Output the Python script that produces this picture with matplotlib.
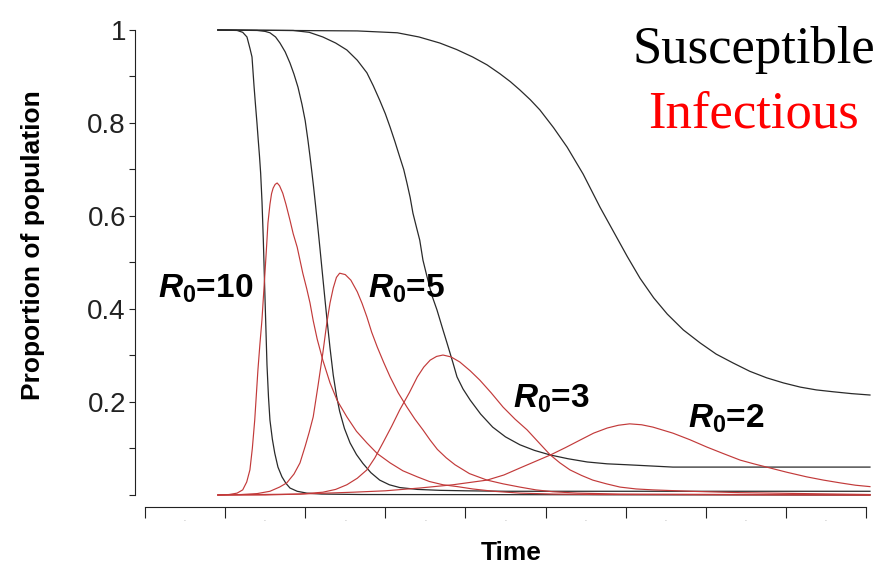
import matplotlib
matplotlib.use("Agg")
from matplotlib import pyplot as plt
from matplotlib.ticker import FixedLocator, FixedFormatter

plt.rcParams['font.family'] = ['Liberation Sans', 'DejaVu Sans']
plt.rcParams['mathtext.fontset'] = 'custom'
plt.rcParams['mathtext.it'] = 'Liberation Sans:italic:bold'
plt.rcParams['mathtext.rm'] = 'Liberation Sans:bold'
plt.rcParams['mathtext.bf'] = 'Liberation Sans:bold'

# susceptible fraction (time, proportion) for each R0
s10_t = [9.1, 11.5, 12.2, 12.73, 13.11, 13.36, 13.61, 13.79, 13.98, 14.14, 14.29, 14.44, 14.61, 14.77, 14.92,
         15.04, 15.23, 15.42, 15.6, 15.9, 16.2, 16.6, 17.1, 17.6, 18.1, 19.0, 20.2, 22.0, 27.0, 90.5]
s10_y = [1.0, 0.999, 0.995, 0.985, 0.96, 0.942, 0.88, 0.84, 0.80, 0.763, 0.73, 0.692, 0.63, 0.55, 0.46,
         0.39, 0.28, 0.21, 0.161, 0.12, 0.09, 0.06, 0.039, 0.025, 0.015, 0.008, 0.004, 0.002, 0.001, 0.0]

s5_t = [9.1, 14.0, 15.0, 15.6, 16.3, 16.85, 17.5, 18.1, 18.6, 19.1, 19.6, 20.0, 20.35, 20.6, 20.85, 21.05,
        21.25, 21.45, 21.6, 21.85, 22.1, 22.3, 22.5, 22.7, 23.1, 23.5, 23.9, 24.3, 24.9, 25.6, 26.4, 27.2,
        28.2, 29.3, 30.5, 31.8, 34.0, 36.8, 40.0, 45.0, 90.5]
s5_y = [1.0, 0.999, 0.997, 0.994, 0.985, 0.972, 0.953, 0.929, 0.905, 0.877, 0.840, 0.805, 0.762, 0.728, 0.692,
        0.662, 0.630, 0.597, 0.572, 0.529, 0.485, 0.450, 0.415, 0.381, 0.316, 0.258, 0.214, 0.180, 0.143, 0.112,
        0.087, 0.068, 0.048, 0.032, 0.022, 0.016, 0.012, 0.010, 0.009, 0.008, 0.008]

s3_t = [9.1, 18.5, 20.5, 22.2, 23.8, 25.2, 26.5, 27.7, 28.5, 29.3, 30.0, 30.6, 31.2, 31.8, 32.3, 32.7, 33.1,
        33.45, 33.9, 34.3, 34.7, 35.2, 35.8, 36.45, 37.2, 37.7, 38.45, 38.95, 39.7, 40.6, 41.9, 43.4, 45.0,
        46.8, 48.6, 50.6, 52.8, 55.2, 57.7, 60.2, 65.9, 90.5]
s3_y = [1.0, 0.999, 0.995, 0.985, 0.972, 0.957, 0.935, 0.908, 0.88, 0.849, 0.82, 0.791, 0.76, 0.727, 0.70, 0.671,
        0.64, 0.606, 0.575, 0.548, 0.505, 0.47, 0.43, 0.398, 0.355, 0.327, 0.284, 0.254, 0.228, 0.204, 0.174,
        0.146, 0.125, 0.108, 0.096, 0.086, 0.078, 0.071, 0.067, 0.065, 0.060, 0.060]

s2_t = [9.1, 26.5, 31.5, 34.2, 36.8, 38.9, 40.9, 42.7, 44.3, 45.6, 46.8, 48.1, 49.3, 51.0, 52.7, 54.7, 56.8,
        58.5, 60.2, 61.8, 63.5, 65.2, 67.2, 69.3, 71.3, 73.4, 75.5, 77.6, 79.7, 81.8, 83.8, 85.9, 88.2, 90.5]
s2_y = [1.0, 0.998, 0.994, 0.985, 0.972, 0.958, 0.942, 0.925, 0.906, 0.889, 0.871, 0.850, 0.828, 0.79, 0.748,
        0.69, 0.619, 0.566, 0.513, 0.466, 0.424, 0.389, 0.355, 0.327, 0.303, 0.284, 0.266, 0.252, 0.241, 0.232,
        0.226, 0.222, 0.218, 0.215]

# infectious fraction
i10_t = [9.1, 10.5, 11.5, 12.2, 12.7, 13.1, 13.4, 13.7, 13.9, 14.1, 14.35, 14.6, 14.8, 15.0, 15.2, 15.35,
         15.6, 15.8, 16.0, 16.25, 16.5, 16.8, 17.2, 17.6, 18.1, 18.5, 19.0, 19.35, 19.7, 20.2, 20.6, 21.0,
         21.5, 22.2, 23.1, 24.0, 25.2, 26.4, 27.7, 29.0, 30.6, 32.2, 34.0, 35.5, 37.2, 39.0, 40.9, 43.5,
         46.8, 51.0, 56.8, 90.5]
i10_y = [0.0, 0.001, 0.004, 0.011, 0.028, 0.054, 0.10, 0.161, 0.215, 0.269, 0.325, 0.376, 0.43, 0.484, 0.54,
         0.585, 0.625, 0.648, 0.660, 0.668, 0.671, 0.665, 0.649, 0.625, 0.591, 0.562, 0.533, 0.505, 0.477, 0.443,
         0.413, 0.375, 0.335, 0.29, 0.241, 0.203, 0.168, 0.137, 0.112, 0.089, 0.069, 0.052, 0.039, 0.029, 0.022,
         0.018, 0.013, 0.008, 0.004, 0.002, 0.001, 0.0]

i5_t = [9.1, 12.0, 14.0, 15.6, 16.8, 17.7, 18.6, 19.35, 20.0, 20.5, 21.0, 21.6, 22.2, 22.7, 23.1, 23.5, 23.9,
        24.3, 25.0, 25.7, 26.5, 27.1, 27.7, 28.3, 29.0, 29.8, 30.6, 31.6, 32.7, 33.7, 34.7, 35.6, 36.5, 37.6,
        38.7, 40.5, 42.7, 44.7, 46.8, 48.8, 50.9, 54.0, 59.3, 90.5]
i5_y = [0.0, 0.001, 0.003, 0.008, 0.017, 0.026, 0.045, 0.069, 0.105, 0.135, 0.168, 0.235, 0.305, 0.37, 0.413,
        0.445, 0.468, 0.477, 0.474, 0.462, 0.437, 0.412, 0.383, 0.35, 0.318, 0.285, 0.254, 0.22, 0.189, 0.163,
        0.14, 0.118, 0.098, 0.08, 0.065, 0.046, 0.032, 0.024, 0.017, 0.011, 0.007, 0.004, 0.002, 0.0]

i3_t = [9.1, 15.0, 19.35, 22.2, 23.8, 25.2, 26.5, 27.7, 28.7, 29.7, 30.8, 31.8, 33.0, 34.0, 34.8, 35.6, 36.4,
        37.2, 38.2, 39.3, 40.6, 41.8, 43.2, 44.7, 46.2, 47.7, 49.2, 50.6, 51.8, 53.05, 54.5, 55.9, 57.6, 59.3,
        61.3, 63.4, 68.0, 74.3, 90.5]
i3_y = [0.0, 0.0, 0.002, 0.006, 0.012, 0.022, 0.036, 0.054, 0.08, 0.112, 0.148, 0.183, 0.22, 0.254, 0.275,
        0.29, 0.298, 0.301, 0.297, 0.286, 0.267, 0.247, 0.22, 0.189, 0.163, 0.14, 0.112, 0.086, 0.069, 0.054,
        0.042, 0.032, 0.024, 0.017, 0.013, 0.011, 0.008, 0.005, 0.001]

i2_t = [9.1, 19.35, 26.0, 30.0, 34.3, 38.45, 42.7, 44.8, 46.8, 48.7, 50.6, 52.5, 54.3, 56.0, 57.7, 59.1, 60.5,
        62.0, 63.4, 65.9, 68.0, 70.15, 72.2, 74.3, 76.0, 77.6, 80.1, 82.6, 84.7, 86.8, 88.7, 90.5]
i2_y = [0.0, 0.002, 0.006, 0.009, 0.015, 0.022, 0.032, 0.043, 0.058, 0.072, 0.086, 0.102, 0.118, 0.133, 0.144,
        0.150, 0.153, 0.151, 0.146, 0.133, 0.119, 0.103, 0.089, 0.075, 0.067, 0.060, 0.049, 0.039, 0.032, 0.026,
        0.021, 0.018]

r0_labels = ['10', '5', '3', '2']
r0_pos_t = [1.6, 27.8, 46.0, 67.8]
r0_pos_y = [0.425, 0.425, 0.189, 0.146]

x_ticks = [0, 10, 20, 30, 40, 50, 60, 70, 80, 90]
y_ticks = [0.0, 0.1, 0.2, 0.3, 0.4, 0.5, 0.6, 0.7, 0.8, 0.9, 1.0]
y_labels = ['', '', '0.2', '', '0.4', '', '0.6', '', '0.8', '', '1']

black = '#2a2a2a'
red = '#c23a3a'

fig = plt.figure(figsize=(8.92, 5.67), dpi=100)
ax = fig.add_axes([0.1513, 0.1188, 0.8285, 0.8365])

for t, y in [(s10_t, s10_y), (s5_t, s5_y), (s3_t, s3_y), (s2_t, s2_y)]:
    ax.plot(t, y, color=black, lw=0.9)
for t, y in [(i10_t, i10_y), (i5_t, i5_y), (i3_t, i3_y), (i2_t, i2_y)]:
    ax.plot(t, y, color=red, lw=0.85)

ax.set_xlim(-1.25, 91.0)
ax.set_ylim(-0.01, 1.01)

for side in ['top', 'right']:
    ax.spines[side].set_visible(False)
ax.spines['left'].set_bounds(0, 1)
ax.spines['bottom'].set_bounds(0, 90)
ax.spines['bottom'].set_position(('outward', 5.3))
for side in ['left', 'bottom']:
    ax.spines[side].set_linewidth(0.8)
    ax.spines[side].set_color('#222222')

ax.yaxis.set_major_locator(FixedLocator(y_ticks))
ax.yaxis.set_major_formatter(FixedFormatter(y_labels))
ax.tick_params(axis='y', direction='out', length=4.5, width=0.8, pad=2,
               labelsize=20, colors='#222222')

ax.xaxis.set_major_locator(FixedLocator(x_ticks))
ax.set_xticklabels([])
ax.xaxis.set_minor_locator(FixedLocator([x + 5 for x in x_ticks[:-1]]))
ax.xaxis.set_minor_formatter(FixedFormatter(['-'] * 9))
ax.tick_params(axis='x', which='major', direction='out', length=8, width=0.8, color='#222222')
ax.tick_params(axis='x', which='minor', length=0, pad=8, labelsize=4, labelcolor='#999999')

for lab, t, y in zip(r0_labels, r0_pos_t, r0_pos_y):
    ax.text(t, y, '$R_0$=' + lab, fontsize=24, fontweight='bold', ha='left', va='baseline')

fig.text(33 / 892, 1 - 245 / 567, 'Proportion of population', rotation=90,
         fontsize=19, fontweight='bold', ha='center', va='center')
fig.text(511 / 892, 1 - 553 / 567, 'Time', fontsize=19, fontweight='bold',
         ha='center', va='center')

fig.text(754 / 892, 1 - 63 / 567, 'Susceptible', family='Liberation Serif',
         fontsize=38, color='black', ha='center', va='baseline')
fig.text(754 / 892, 1 - 127 / 567, 'Infectious', family='Liberation Serif',
         fontsize=38, color='#ff0000', ha='center', va='baseline')

fig.savefig('out.png', dpi=100)
